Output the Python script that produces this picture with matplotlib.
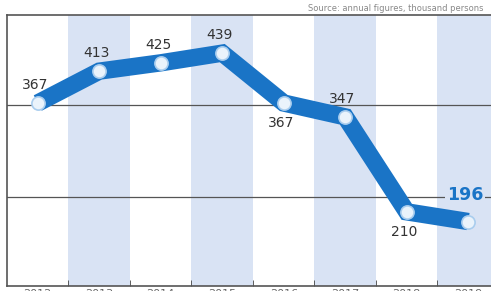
import matplotlib.pyplot as plt

# values
years = ["2012", "2013", "2014", "2015", "2016", "2017", "2018", "2019"]
values = [367, 413, 425, 439, 367, 347, 210, 196]
label_offsets = [18, 18, 18, 18, -20, 18, -20, 0]  # pixels above(+)/below(-) point
grid_levels = [364, 232]

blue = "#1a74c6"
band = "#d9e3f4"

fig = plt.figure(figsize=(4.91, 2.91), dpi=100)
ax = fig.add_axes([7 / 491, 5 / 291, 492 / 491, 271 / 291])

x = list(range(len(values)))

# alternating column bands
for i in x:
    if i % 2 == 1:
        ax.axvspan(i - 0.5, i + 0.5, color=band, lw=0, zorder=0)

# horizontal reference lines
for g in grid_levels:
    ax.axhline(g, color="#555555", lw=0.9, zorder=1)

ax.plot(x, values, color=blue, lw=12.5, solid_joinstyle="miter",
        solid_capstyle="butt", zorder=2)
ax.plot(x, values, ls="none", marker="o", ms=9.5, mfc="#eaf3fb",
        mec="#a9cdee", mew=1.2, zorder=3)

for xi, v, off in zip(x[:-1], values[:-1], label_offsets[:-1]):
    ax.annotate(str(v), (xi, v), xytext=(-2, off * 0.72), textcoords="offset points",
                ha="center", va="center", fontsize=10, color="#333333", zorder=4)

# highlighted last value, sitting on the lower reference line
ax.text(x[-1] - 0.05, grid_levels[1] + 2, str(values[-1]), ha="center", va="center",
        fontsize=12.5, fontweight="bold", color=blue, zorder=4,
        bbox=dict(boxstyle="square,pad=0.1", fc=band, ec="none"))

ax.set_xlim(-0.5, 7.5)
ax.set_ylim(103, 494)
ax.set_yticks([])
ax.set_xticks([i + 0.5 for i in x[:-1]], minor=True)
ax.set_xticks(x)
ax.set_xticklabels(years, fontsize=8, color="#666666")
ax.tick_params(axis="x", which="major", length=0, pad=2)
ax.tick_params(axis="x", which="minor", direction="in", length=4, color="#444444")
for side in ["left", "top", "bottom"]:
    ax.spines[side].set_color("#555555")
    ax.spines[side].set_linewidth(1.2)
ax.spines["right"].set_visible(False)

fig.text(0.985, 0.985, "Source: annual figures, thousand persons", ha="right", va="top",
         fontsize=6, color="#888888")

fig.savefig("out.png", dpi=100)
